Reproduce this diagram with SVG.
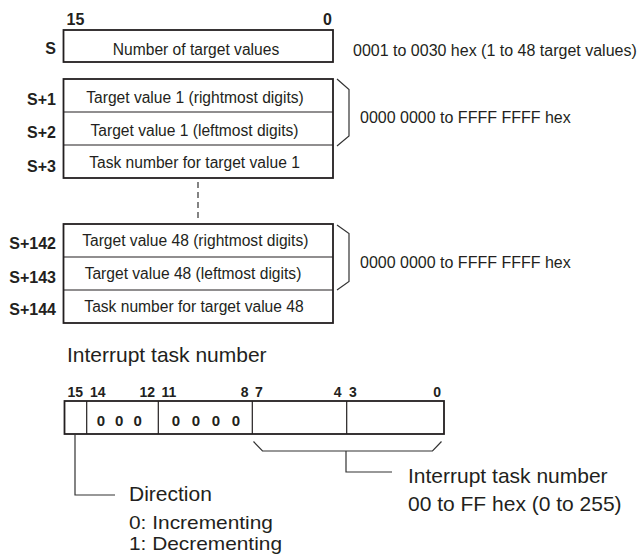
<svg xmlns="http://www.w3.org/2000/svg" width="639" height="554" viewBox="0 0 639 554">
<style>
.t{font-family:"Liberation Sans",Arial,Helvetica,sans-serif;fill:#231f20}
.b{font-family:"Liberation Sans",Arial,Helvetica,sans-serif;font-weight:bold;fill:#231f20}
.bx{fill:#fff;stroke:#231f20;stroke-width:1.8}
.dv{stroke:#231f20;stroke-width:1.2;fill:none}
.ln{stroke:#333;stroke-width:1.2;fill:none}
.m{text-anchor:middle}
.e{text-anchor:end}
.s15{font-size:15.6px}
.s16{font-size:16px}
.s20{font-size:21px}
.s19{font-size:19px}
</style>
<rect width="639" height="554" fill="#fff"/>

<g id="bit-header">
<text class="b s16" x="66.5" y="25">15</text>
<text class="b s16 e" x="332" y="25">0</text>
</g>

<g id="word-S">
<rect class="bx" x="63.5" y="30" width="269.5" height="32"/>
<text class="t s15 m" x="196" y="54.5">Number of target values</text>
<text class="b s16 e" x="56" y="53.5">S</text>
<text class="t s16" x="353" y="56">0001 to 0030 hex (1 to 48 target values)</text>
</g>

<g id="target-1">
<rect class="bx" x="63.5" y="79" width="269.5" height="99"/>
<path class="dv" d="M63.5,112H333M63.5,145H333"/>
<text class="t s15 m" x="195" y="103">Target value 1 (rightmost digits)</text>
<text class="t s15 m" x="194.5" y="135.5">Target value 1 (leftmost digits)</text>
<text class="t s15 m" x="194.5" y="168">Task number for target value 1</text>
<text class="b s16 e" x="56" y="104.5">S+1</text>
<text class="b s16 e" x="56" y="138">S+2</text>
<text class="b s16 e" x="56" y="171.5">S+3</text>
<text class="t s16" x="360" y="123">0000 0000 to FFFF FFFF hex</text>
</g>

<g id="target-48">
<rect class="bx" x="63.5" y="224" width="269.5" height="99"/>
<path class="dv" d="M63.5,257H333M63.5,290H333"/>
<text class="t s15 m" x="195.3" y="246">Target value 48 (rightmost digits)</text>
<text class="t s15 m" x="193" y="279">Target value 48 (leftmost digits)</text>
<text class="t s15 m" x="194" y="312">Task number for target value 48</text>
<text class="b s16 e" x="56" y="248.5">S+142</text>
<text class="b s16 e" x="56" y="282.5">S+143</text>
<text class="b s16 e" x="56" y="315">S+144</text>
<text class="t s16" x="360" y="268">0000 0000 to FFFF FFFF hex</text>
</g>

<g id="interrupt-word">
<text class="t s20" x="67" y="362">Interrupt task number</text>
<g class="b" font-size="14">
<text x="67.5" y="397">15</text>
<text x="90" y="397">14</text>
<text class="e" x="155" y="397">12</text>
<text x="161.5" y="397">11</text>
<text class="e" x="248.5" y="397">8</text>
<text x="255" y="397">7</text>
<text class="e" x="341.5" y="397">4</text>
<text x="349" y="397">3</text>
<text class="e" x="441" y="397">0</text>
</g>
<rect class="bx" x="64.5" y="401" width="379.5" height="33"/>
<path class="dv" d="M86.7,401V434M158.3,401V434M252.3,401V434M346.7,401V434"/>
<text class="b" font-size="15" x="96.7 115 133.4" y="425.5">000</text>
<text class="b" font-size="15" x="171.7 191.7 211.7 231.7" y="425.5">0000</text>
</g>

<g id="direction-note">
<text class="t s20" x="129" y="501">Direction</text>
<text class="t s19" x="129" y="528.5" textLength="144" lengthAdjust="spacingAndGlyphs">0: Incrementing</text>
<text class="t s19" x="129" y="550" textLength="153" lengthAdjust="spacingAndGlyphs">1: Decrementing</text>
</g>

<g id="task-note">
<text class="t s20" x="408" y="483">Interrupt task number</text>
<text class="t s20" x="408" y="511">00 to FF hex (0 to 255)</text>
</g>

<g id="connectors">
<path class="ln" d="M337,79L349,89.5V136L337,146"/>
<path class="ln" d="M337,225L349,233.5V281.5L337,290"/>
<path class="ln" stroke-dasharray="6,4" stroke-width="1.8" d="M198,182V220"/>
<path class="ln" d="M75,434V495H115"/>
<path class="ln" d="M253.5,441.5L262.5,451H432.5L441.5,441.5"/>
<path class="ln" d="M346,451V472H392"/>
</g>
</svg>
